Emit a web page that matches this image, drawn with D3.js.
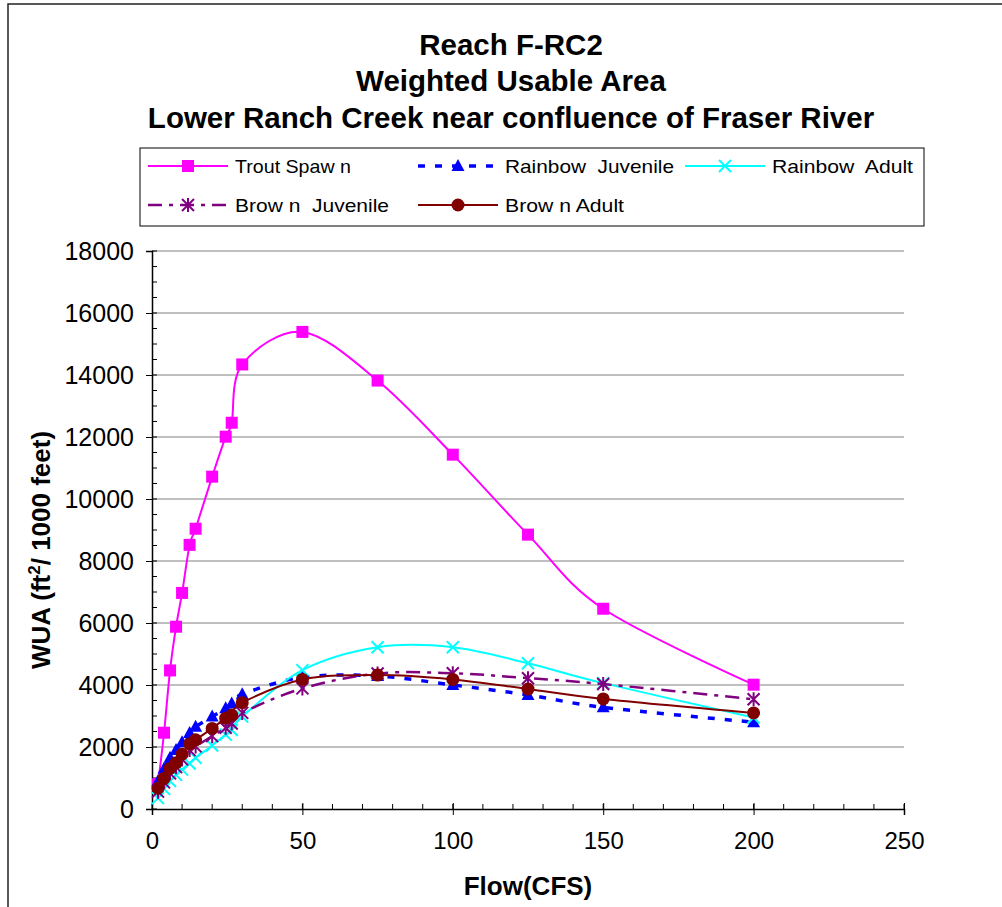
<!DOCTYPE html>
<html><head><meta charset="utf-8">
<script src="https://cdn.jsdelivr.net/npm/d3@7"></script>
<style>body{margin:0;background:#fff}svg{display:block}text{font-family:"Liberation Sans",Arial,sans-serif}</style>
</head><body>
<script>
const titleLines = ["Reach F-RC2", "Weighted Usable Area", "Lower Ranch Creek near confluence of Fraser River"];
const xTicks = [0, 50, 100, 150, 200, 250];
const yTicks = [0, 2000, 4000, 6000, 8000, 10000, 12000, 14000, 16000, 18000];
const flows = [2, 4, 6, 8, 10, 12.5, 14.5, 20, 24.5, 26.5, 30, 50, 75, 100, 125, 150, 200];
const troutSpawn = [800, 2460, 4470, 5880, 6970, 8520, 9040, 10720, 12010, 12460, 14340, 15390, 13820, 11430, 8850, 6460, 4010];
const rainbowJuvenile = [900, 1300, 1650, 1900, 2150, 2450, 2650, 2980, 3250, 3400, 3700, 4250, 4290, 4000, 3680, 3280, 2800];
const rainbowAdult = [350, 650, 900, 1100, 1270, 1470, 1650, 2050, 2400, 2550, 2980, 4480, 5220, 5220, 4700, 4060, 2950];
const brownJuvenile = [560, 860, 1150, 1350, 1600, 1900, 2020, 2350, 2620, 2760, 3100, 3890, 4370, 4380, 4220, 4030, 3540];
const brownAdult = [670, 990, 1310, 1490, 1770, 2100, 2230, 2600, 2930, 3030, 3430, 4180, 4320, 4180, 3870, 3550, 3100];
const seriesNames = ["Trout Spaw n", "Rainbow  Juvenile", "Rainbow  Adult", "Brow n  Juvenile", "Brow n Adult"];

const W = 1002, H = 907;
const svg = d3.select("body").append("svg").attr("width", W).attr("height", H);
svg.append("rect").attr("x", 8).attr("y", 4).attr("width", W + 10).attr("height", H + 10)
  .attr("fill", "#fff").attr("stroke", "#222").attr("stroke-width", 1.5);

const x = d3.scaleLinear().domain([0, 250]).range([152, 904]);
const y = d3.scaleLinear().domain([0, 18000]).range([809, 251]);

// Title
svg.append("g").selectAll("text").data(titleLines).join("text")
  .attr("x", 511).attr("y", (d, i) => [55, 91, 128][i])
  .attr("text-anchor", "middle").attr("font-weight", "bold").attr("font-size", 29.5)
  .text(d => d);

// gridlines
svg.append("g").selectAll("line").data(yTicks.filter(d => d > 0)).join("line")
  .attr("x1", x(0)).attr("x2", x(250)).attr("y1", d => y(d)).attr("y2", d => y(d))
  .attr("stroke", "#808080").attr("stroke-width", 1);

// Y axis
const yAxis = svg.append("g").attr("transform", `translate(${x(0)},0)`)
  .call(d3.axisLeft(y).tickValues(yTicks).tickSize(6).tickPadding(12).tickFormat(d3.format("d")));
yAxis.selectAll("text").attr("font-size", 25).attr("fill", "#000");
yAxis.select(".domain").attr("stroke", "#000").attr("stroke-width", 1.5);
const yMinor = d3.range(0, 18001, 500);
svg.append("g").selectAll("line").data(yMinor).join("line")
  .attr("x1", x(0)).attr("x2", x(0) + 5).attr("y1", d => y(d)).attr("y2", d => y(d))
  .attr("stroke", "#000");

// X axis
const xAxis = svg.append("g").attr("transform", `translate(0,${y(0)})`)
  .call(d3.axisBottom(x).tickValues(xTicks).tickSize(6).tickPadding(17));
xAxis.selectAll("text").attr("font-size", 24).attr("fill", "#000");
xAxis.select(".domain").attr("stroke", "#000").attr("stroke-width", 1.5);
xAxis.selectAll(".tick line").attr("y1", -6);
svg.append("g").selectAll("line").data(d3.range(0, 251, 10)).join("line")
  .attr("x1", d => x(d)).attr("x2", d => x(d)).attr("y1", y(0)).attr("y2", y(0) - 5)
  .attr("stroke", "#000");

// axis titles
svg.append("text").attr("x", 528).attr("y", 895).attr("text-anchor", "middle")
  .attr("font-weight", "bold").attr("font-size", 26).text("Flow(CFS)");
const yl = svg.append("text").attr("transform", "translate(50,550) rotate(-90)")
  .attr("text-anchor", "middle").attr("font-weight", "bold").attr("font-size", 26);
yl.append("tspan").text("WUA (ft");
yl.append("tspan").attr("font-size", 17).attr("dy", -10).text("2");
yl.append("tspan").attr("dy", 10).text("/ 1000 feet)");

// marker drawers
function marker(g, type, color, cx, cy) {
  if (type === "square") {
    g.append("rect").attr("x", cx - 6).attr("y", cy - 6).attr("width", 12).attr("height", 12).attr("fill", color);
  } else if (type === "triangle") {
    g.append("path").attr("d", `M${cx},${cy - 7}L${cx + 6.5},${cy + 5}L${cx - 6.5},${cy + 5}Z`).attr("fill", color);
  } else if (type === "x") {
    g.append("path").attr("d", `M${cx - 6},${cy - 6}L${cx + 6},${cy + 6}M${cx - 6},${cy + 6}L${cx + 6},${cy - 6}`)
      .attr("stroke", color).attr("stroke-width", 2);
  } else if (type === "star") {
    g.append("path").attr("d", `M${cx - 6},${cy - 6}L${cx + 6},${cy + 6}M${cx - 6},${cy + 6}L${cx + 6},${cy - 6}M${cx},${cy - 7}L${cx},${cy + 7}`)
      .attr("stroke", color).attr("stroke-width", 2);
  } else if (type === "circle") {
    g.append("circle").attr("cx", cx).attr("cy", cy).attr("r", 6.5).attr("fill", color);
  }
}

const series = [
  {name: seriesNames[0], vals: troutSpawn, color: "#FF00FF", dash: null, width: 2, m: "square"},
  {name: seriesNames[1], vals: rainbowJuvenile, color: "#0000FF", dash: "7,10", width: 3.5, m: "triangle"},
  {name: seriesNames[2], vals: rainbowAdult, color: "#00FFFF", dash: null, width: 2, m: "x"},
  {name: seriesNames[3], vals: brownJuvenile, color: "#800080", dash: "14,7,4,7", width: 2.5, m: "star"},
  {name: seriesNames[4], vals: brownAdult, color: "#800000", dash: null, width: 2, m: "circle"}
];

const line = d3.line().x(d => x(d[0])).y(d => y(d[1])).curve(d3.curveCatmullRom.alpha(0));
const plot = svg.append("g");
series.forEach(s => {
  const pts = flows.map((f, i) => [f, s.vals[i]]);
  const g = plot.append("g");
  g.append("path").datum(pts).attr("d", line).attr("fill", "none")
    .attr("stroke", s.color).attr("stroke-width", s.width).attr("stroke-dasharray", s.dash);
  pts.forEach(p => marker(g, s.m, s.color, x(p[0]), y(p[1])));
});

// legend
const lg = svg.append("g");
lg.append("rect").attr("x", 140).attr("y", 148).attr("width", 784).attr("height", 78)
  .attr("fill", "#fff").attr("stroke", "#000").attr("stroke-width", 1);
const lpos = [[148, 166], [418, 166], [685, 166], [148, 205], [418, 205]];
const lwid = [116, 169, 141, 154, 119];
series.forEach((s, i) => {
  const [lx, ly] = lpos[i];
  const g = lg.append("g");
  g.append("line").attr("x1", lx).attr("x2", lx + 80).attr("y1", ly).attr("y2", ly)
    .attr("stroke", s.color).attr("stroke-width", s.width).attr("stroke-dasharray", s.dash);
  marker(g, s.m, s.color, lx + 40, ly);
  g.append("text").attr("x", lx + 87).attr("y", ly + 7).attr("font-size", 19)
    .attr("textLength", lwid[i]).attr("lengthAdjust", "spacingAndGlyphs").style("white-space", "pre").text(s.name);
});
</script>
</body></html>
